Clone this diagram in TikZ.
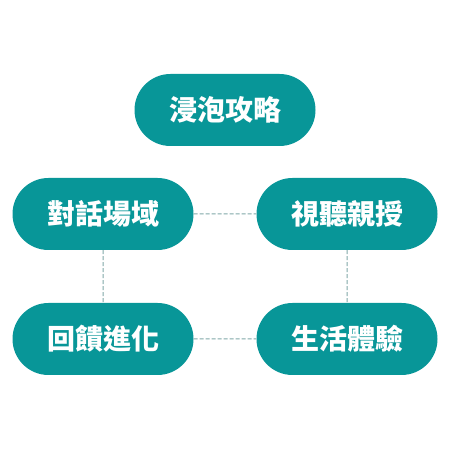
\documentclass[tikz,border=0pt]{standalone}
\usepackage{fontspec}
\newfontfamily\cjk{Noto Sans CJK TC}
\usetikzlibrary{positioning,shapes.misc}
\definecolor{teal1}{HTML}{089698}
\definecolor{linkgray}{HTML}{7FA8A8}

\begin{document}
\begin{tikzpicture}[x=1pt,y=1pt,
  pill/.style={rounded rectangle, fill=teal1, text=white, minimum width=181pt,
    minimum height=72pt, inner sep=0pt, font=\cjk\bfseries\fontsize{28}{30}\selectfont},
  link/.style={draw=linkgray, line width=1pt, dash pattern=on 4pt off 2pt}]
\useasboundingbox (0,0) rectangle (450,450);

% top
\node[pill] (top) at (225,340) {浸泡攻略};
% the four fields
\node[pill] (talk) at (103,236) {對話場域};
\node[pill] (media) at (347,236) {視聽親授};
\node[pill] (loop) at (103,111) {回饋進化};
\node[pill] (life) at (347,111) {生活體驗};

\draw[link] (talk) -- (media);
\draw[link] (loop) -- (life);
\draw[link] (talk) -- (loop);
\draw[link] (media) -- (life);
\end{tikzpicture}
\end{document}
